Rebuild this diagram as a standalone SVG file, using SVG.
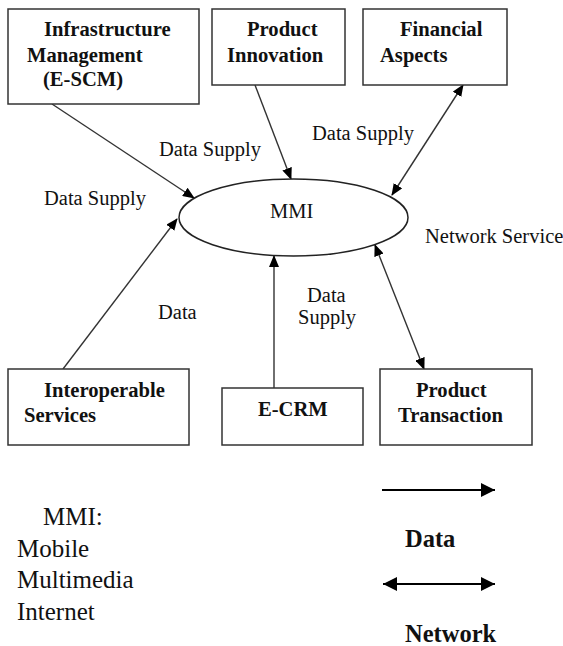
<svg xmlns="http://www.w3.org/2000/svg" width="563" height="646" viewBox="0 0 563 646">
<defs>
<style>
.box{fill:#fff;stroke:#333;stroke-width:1.5}
.bt{font-family:"Liberation Serif","Times New Roman",serif;font-weight:bold;font-size:20.6px;fill:#111}
.lt{font-family:"Liberation Serif","Times New Roman",serif;font-size:20.5px;fill:#111}
.lg{font-family:"Liberation Serif","Times New Roman",serif;font-size:25px;fill:#111}
.lgb{font-family:"Liberation Serif","Times New Roman",serif;font-size:24.5px;font-weight:bold;fill:#111}
.c{stroke:#333;stroke-width:1.4;fill:none}
.lgc{stroke:#000;stroke-width:2;fill:none}
</style>
<marker id="ah" markerUnits="userSpaceOnUse" markerWidth="12" markerHeight="10" refX="11" refY="5" orient="auto-start-reverse" viewBox="0 0 12 10">
<path d="M0,0 L12,5 L0,10 Z" fill="#000"/>
</marker>
<marker id="ahL" markerUnits="userSpaceOnUse" markerWidth="14" markerHeight="14" refX="14" refY="7" orient="auto-start-reverse" viewBox="0 0 14 14">
<path d="M0,0 L14,7 L0,14 Z" fill="#000"/>
</marker>
</defs>
<rect width="563" height="646" fill="#fff"/>

<g id="connectors">
<line class="c" x1="52" y1="104" x2="194" y2="198" marker-end="url(#ah)"/>
<line class="c" x1="255" y1="85" x2="291" y2="179" marker-end="url(#ah)"/>
<line class="c" x1="392" y1="195" x2="463" y2="85" marker-start="url(#ah)" marker-end="url(#ah)"/>
<line class="c" x1="63" y1="369" x2="177" y2="219" marker-end="url(#ah)"/>
<line class="c" x1="274" y1="388" x2="274" y2="256" marker-end="url(#ah)"/>
<line class="c" x1="375" y1="245" x2="424" y2="369" marker-start="url(#ah)" marker-end="url(#ah)"/>
</g>

<g id="labels">
<text class="lt" x="159" y="156">Data Supply</text>
<text class="lt" x="312" y="140">Data Supply</text>
<text class="lt" x="44" y="205">Data Supply</text>
<text class="lt" x="425" y="243">Network Service</text>
<text class="lt" x="158" y="319">Data</text>
<text class="lt" x="307" y="302">Data</text>
<text class="lt" x="298" y="324">Supply</text>
</g>

<g id="mmi">
<ellipse cx="293.5" cy="217.5" rx="114.5" ry="38.5" fill="#fff" stroke="#222" stroke-width="1.5"/>
<text class="lt" x="270" y="218">MMI</text>
</g>

<g id="infrastructure">
<rect class="box" x="8" y="9" width="191" height="95"/>
<text class="bt" x="44" y="36">Infrastructure</text>
<text class="bt" x="27" y="62">Management</text>
<text class="bt" x="43" y="86">(E-SCM)</text>
</g>

<g id="product-innovation">
<rect class="box" x="212" y="9" width="133" height="76"/>
<text class="bt" x="247" y="36">Product</text>
<text class="bt" x="227" y="62">Innovation</text>
</g>

<g id="financial">
<rect class="box" x="363" y="9" width="144" height="76"/>
<text class="bt" x="400" y="36">Financial</text>
<text class="bt" x="380" y="62">Aspects</text>
</g>

<g id="interoperable">
<rect class="box" x="8" y="369" width="181" height="76"/>
<text class="bt" x="44" y="397">Interoperable</text>
<text class="bt" x="24" y="422">Services</text>
</g>

<g id="ecrm">
<rect class="box" x="222" y="388" width="141" height="57"/>
<text class="bt" x="258" y="416">E-CRM</text>
</g>

<g id="product-transaction">
<rect class="box" x="380" y="369" width="152" height="76"/>
<text class="bt" x="416" y="397">Product</text>
<text class="bt" x="398" y="422">Transaction</text>
</g>

<g id="legend">
<text class="lg" x="43" y="525">MMI:</text>
<text class="lg" x="17" y="557">Mobile</text>
<text class="lg" x="17" y="588">Multimedia</text>
<text class="lg" x="17" y="620">Internet</text>
<line class="lgc" x1="382" y1="490" x2="495" y2="490" marker-end="url(#ahL)"/>
<text class="lgb" x="405" y="547">Data</text>
<line class="lgc" x1="383" y1="584" x2="495" y2="584" marker-start="url(#ahL)" marker-end="url(#ahL)"/>
<text class="lgb" x="405" y="642">Network</text>
</g>
</svg>
